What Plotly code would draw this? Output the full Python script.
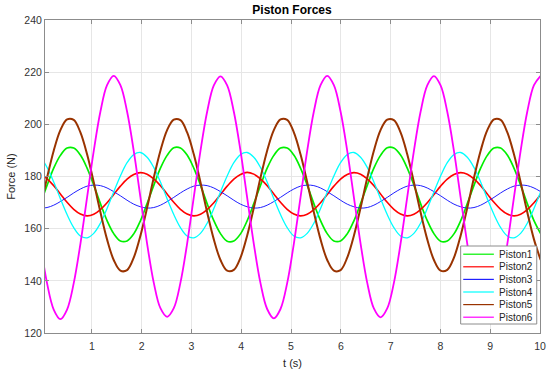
import plotly.graph_objects as go

# time samples (s)
t = [-0.167, -0.033, 0.101, 0.235, 0.369, 0.503, 0.637, 0.771, 0.905, 1.039,
     1.173, 1.306, 1.440, 1.574, 1.708, 1.842, 1.976, 2.110, 2.244, 2.378,
     2.512, 2.646, 2.780, 2.914, 3.048, 3.182, 3.316, 3.450, 3.584, 3.718,
     3.852, 3.986, 4.119, 4.253, 4.387, 4.521, 4.655, 4.789, 4.923, 5.057,
     5.191, 5.325, 5.459, 5.593, 5.727, 5.861, 5.995, 6.129, 6.263, 6.397,
     6.531, 6.664, 6.798, 6.932, 7.066, 7.200, 7.334, 7.468, 7.602, 7.736,
     7.870, 8.004, 8.138, 8.272, 8.406, 8.540, 8.674, 8.808, 8.942, 9.076,
     9.210, 9.344, 9.477, 9.611, 9.745, 9.879, 10.013]

piston1 = [163.0, 169.6, 176.6, 183.2, 188.1, 190.9, 190.9, 188.2, 183.2, 176.7, 169.6, 163.1, 158.1, 155.3, 155.3, 158.0,
           163.0, 169.6, 176.6, 183.2, 188.1, 191.0, 190.9, 188.2, 183.2, 176.7, 169.6, 163.1, 158.1, 155.2, 155.3, 158.0,
           163.0, 169.6, 176.6, 183.2, 188.1, 190.9, 190.9, 188.2, 183.2, 176.7, 169.6, 163.1, 158.1, 155.3, 155.3, 158.0,
           163.0, 169.6, 176.6, 183.2, 188.1, 191.0, 190.9, 188.2, 183.2, 176.7, 169.6, 163.1, 158.1, 155.2, 155.3, 158.0,
           163.0, 169.6, 176.6, 183.2, 188.1, 190.9, 190.9, 188.2, 183.2, 176.7, 169.6, 163.1, 158.1]
piston2 = [181.5, 180.9, 179.1, 176.5, 173.3, 170.1, 167.4, 165.6, 164.9, 165.5, 167.3, 169.9, 173.1, 176.3, 179.0, 180.8,
           181.5, 180.9, 179.1, 176.5, 173.3, 170.1, 167.4, 165.6, 164.9, 165.5, 167.3, 169.9, 173.1, 176.3, 179.0, 180.8,
           181.6, 180.9, 179.1, 176.5, 173.3, 170.1, 167.4, 165.6, 164.9, 165.5, 167.3, 169.9, 173.1, 176.3, 179.0, 180.8,
           181.5, 180.9, 179.1, 176.5, 173.3, 170.1, 167.4, 165.6, 164.9, 165.5, 167.3, 169.9, 173.1, 176.3, 179.0, 180.8,
           181.5, 180.9, 179.1, 176.5, 173.3, 170.1, 167.4, 165.6, 164.9, 165.5, 167.3, 169.9, 173.1]
piston3 = [168.4, 167.9, 168.1, 169.0, 170.4, 172.0, 173.7, 175.2, 176.3, 176.7, 176.5, 175.6, 174.2, 172.6, 170.9, 169.4,
           168.4, 167.9, 168.1, 169.0, 170.4, 172.0, 173.7, 175.2, 176.3, 176.7, 176.5, 175.6, 174.2, 172.6, 170.9, 169.4,
           168.4, 167.9, 168.1, 169.0, 170.4, 172.0, 173.7, 175.2, 176.3, 176.7, 176.5, 175.6, 174.2, 172.6, 170.9, 169.4,
           168.4, 167.9, 168.1, 169.0, 170.4, 172.0, 173.7, 175.2, 176.3, 176.7, 176.5, 175.6, 174.2, 172.6, 170.9, 169.4,
           168.4, 167.9, 168.1, 169.0, 170.4, 172.0, 173.7, 175.2, 176.3, 176.7, 176.5, 175.6, 174.2]
piston4 = [189.2, 187.4, 183.5, 177.9, 171.5, 165.4, 160.4, 157.2, 156.5, 158.2, 162.1, 167.7, 174.1, 180.2, 185.3, 188.4,
           189.2, 187.4, 183.5, 177.9, 171.5, 165.4, 160.4, 157.2, 156.5, 158.2, 162.1, 167.7, 174.1, 180.2, 185.3, 188.4,
           189.2, 187.4, 183.5, 177.9, 171.5, 165.4, 160.4, 157.2, 156.5, 158.2, 162.1, 167.7, 174.1, 180.2, 185.3, 188.4,
           189.2, 187.4, 183.5, 177.9, 171.5, 165.4, 160.4, 157.2, 156.5, 158.2, 162.1, 167.7, 174.1, 180.2, 185.3, 188.4,
           189.2, 187.4, 183.5, 177.9, 171.5, 165.4, 160.4, 157.2, 156.5, 158.2, 162.1, 167.7, 174.1]
piston5 = [157.3, 168.0, 179.5, 189.9, 197.8, 201.9, 201.7, 196.9, 188.5, 177.8, 166.3, 155.9, 148.0, 143.9, 144.1, 148.9,
           157.3, 168.0, 179.5, 189.9, 197.8, 201.8, 201.6, 196.9, 188.5, 177.8, 166.3, 155.9, 148.0, 143.9, 144.2, 148.9,
           157.3, 168.0, 179.5, 189.9, 197.8, 201.9, 201.7, 196.9, 188.5, 177.8, 166.3, 155.9, 148.0, 143.9, 144.1, 148.9,
           157.3, 168.0, 179.5, 189.9, 197.8, 201.8, 201.6, 196.9, 188.5, 177.8, 166.3, 155.9, 148.0, 143.9, 144.2, 148.9,
           157.3, 168.0, 179.5, 189.9, 197.8, 201.9, 201.7, 196.9, 188.5, 177.8, 166.3, 155.9, 148.0]
piston6 = [172.0, 154.2, 139.1, 129.0, 125.3, 129.0, 139.1, 154.2, 172.0, 189.8, 204.9, 215.0, 218.6, 215.0, 204.9, 189.8,
           172.1, 154.3, 139.3, 129.5, 126.2, 129.5, 139.3, 154.3, 172.1, 189.8, 204.8, 214.9, 218.4, 214.9, 204.8, 189.8,
           172.0, 154.2, 139.1, 129.2, 125.6, 129.2, 139.1, 154.2, 172.0, 189.8, 204.9, 215.0, 218.6, 215.0, 204.9, 189.8,
           172.0, 154.3, 139.2, 129.4, 126.0, 129.4, 139.2, 154.3, 172.1, 189.8, 204.8, 214.9, 218.5, 214.9, 204.8, 189.8,
           172.0, 154.2, 139.1, 129.3, 125.7, 129.3, 139.1, 154.2, 172.0, 189.8, 204.9, 215.0, 218.6]

names = ["Piston1", "Piston2", "Piston3", "Piston4", "Piston5", "Piston6"]
series = [piston1, piston2, piston3, piston4, piston5, piston6]
colors = ["#00f000", "#ff0000", "#2020ff", "#00ffff", "#993300", "#ff00ff"]
widths = [1.7, 1.6, 1.0, 1.3, 2.0, 1.8]

x_ticks = [1, 2, 3, 4, 5, 6, 7, 8, 9, 10]
y_ticks = [120, 140, 160, 180, 200, 220, 240]

fig = go.Figure()
for n, s, c, w in zip(names, series, colors, widths):
    fig.add_trace(go.Scatter(x=t, y=s, name=n, mode="lines",
                             line=dict(color=c, width=w, shape="spline", smoothing=1.0),
                             showlegend=False))

W, H = 551, 372
ml, mr, mt, mb = 45, 5, 20, 39
pw, ph = W - ml - mr, H - mt - mb

def px(xp):
    return (xp - ml) / pw

def py(yp):
    return (H - mb - yp) / ph

# compact MATLAB-style legend
shapes = [dict(type="rect", xref="paper", yref="paper",
               x0=px(465.7), x1=px(542.7), y0=py(324), y1=py(246),
               line=dict(color="#8c8c8c", width=1), fillcolor="white", layer="above")]
annotations = []
row_y = [254.2, 266.8, 279.4, 292.0, 304.6, 317.2]
for n, c, ry in zip(names, colors, row_y):
    shapes.append(dict(type="line", xref="paper", yref="paper",
                       x0=px(468.3), x1=px(499.3), y0=py(ry), y1=py(ry),
                       line=dict(color=c, width=1.2), layer="above"))
    annotations.append(dict(xref="paper", yref="paper", x=px(502.5), y=py(ry),
                            text=n, showarrow=False, xanchor="left", yanchor="middle",
                            font=dict(family="Liberation Sans, Arial", size=10, color="#262626")))

axis_common = dict(showline=True, linecolor="#8c8c8c", linewidth=1, mirror="ticks",
                   ticks="inside", ticklen=4, tickcolor="#8c8c8c",
                   showgrid=True, gridcolor="#e6e6e6", gridwidth=1, zeroline=False,
                   ticklabeloverflow="allow",
                   tickfont=dict(family="Liberation Sans, Arial", size=10.5, color="#333333"))

fig.update_layout(
    width=W, height=H,
    margin=dict(l=ml, r=mr, t=mt, b=mb),
    paper_bgcolor="white", plot_bgcolor="white",
    title=dict(text="<b>Piston Forces</b>", x=px(295), xref="paper", xanchor="center",
               y=1 - 10 / H, yanchor="middle",
               font=dict(family="Liberation Sans, Arial", size=12, color="#000000")),
    xaxis=dict(range=[0.06, 10], tickvals=x_ticks, ticklabelstandoff=3, **axis_common,
               title=dict(text="t (s)", standoff=8,
                          font=dict(family="Liberation Sans, Arial", size=11, color="#262626"))),
    yaxis=dict(range=[120, 240], tickvals=y_ticks, **axis_common,
               title=dict(text="Force (N)", standoff=6,
                          font=dict(family="Liberation Sans, Arial", size=11, color="#262626"))),
    shapes=shapes, annotations=annotations,
)

fig.write_html("out.html")
